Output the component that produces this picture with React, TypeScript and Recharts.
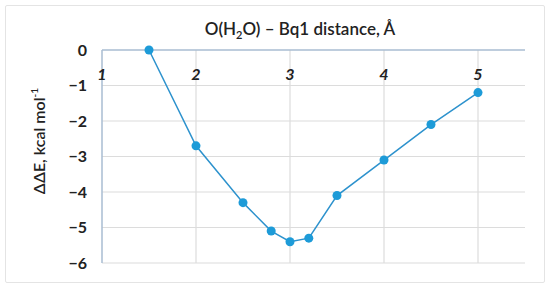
import React from 'react';
import { LineChart, Line, XAxis, YAxis, CartesianGrid } from 'recharts';

// O(H2O) - Bq1 distance (Å) vs ΔΔE (kcal/mol)
const distance = [1.5, 2, 2.5, 2.8, 3, 3.2, 3.5, 4, 4.5, 5];
const deltaE = [0, -2.7, -4.3, -5.1, -5.4, -5.3, -4.1, -3.1, -2.1, -1.2];
const xTicks = [1, 2, 3, 4, 5];
const yTicks = [0, -1, -2, -3, -4, -5, -6];

const data = distance.map((d, i) => ({ d, e: deltaE[i] }));

const FONT = 'Lato, "Open Sans", sans-serif';
const AXIS_COLOR = '#a9bdd2';
const PLOT_TOP = 50;

const XTick = ({ x, payload }: any) => (
  <text
    x={x}
    y={PLOT_TOP + 30}
    textAnchor="middle"
    fontFamily={FONT}
    fontSize={16}
    fontWeight={700}
    fontStyle="italic"
    fill="#222"
  >
    {payload.value}
  </text>
);

export default function App() {
  return (
    <div style={{ position: 'absolute', left: 0, top: 0, width: 550, height: 289, background: '#fff' }}>
      <div
        style={{
          position: 'absolute',
          left: 5,
          top: 5,
          width: 538,
          height: 276,
          border: '1.5px solid #e4e4e4',
          borderRadius: 2,
        }}
      />
      <div
        style={{
          position: 'absolute',
          left: 0,
          width: 600,
          top: 18,
          textAlign: 'center',
          fontFamily: FONT,
          fontSize: 17,
          fontWeight: 600,
          color: '#222',
        }}
      >
        O(H<sub style={{ fontSize: 11 }}>2</sub>O) – Bq1 distance, Å
      </div>
      <div
        style={{
          position: 'absolute',
          left: 38,
          top: 141,
          transform: 'translate(-50%, -50%) rotate(-90deg)',
          whiteSpace: 'nowrap',
          fontFamily: FONT,
          fontSize: 16,
          fontWeight: 600,
          color: '#222',
        }}
      >
        ΔΔE, kcal mol<sup style={{ fontSize: 10 }}>-1</sup>
      </div>
      <LineChart
        width={550}
        height={289}
        data={data}
        margin={{ top: 20, right: 25, bottom: 26, left: 0 }}
        style={{ position: 'absolute', left: 0, top: 0 }}
      >
        <CartesianGrid stroke="#dcdcdc" strokeWidth={1.2} horizontalValues={yTicks.slice(1)} verticalValues={xTicks.slice(1)} />
        <XAxis
          dataKey="d"
          type="number"
          orientation="top"
          height={30}
          domain={[1, 5.5]}
          ticks={xTicks}
          tickLine={false}
          axisLine={{ stroke: AXIS_COLOR, strokeWidth: 1.5 }}
          tick={<XTick />}
          allowDataOverflow
        />
        <YAxis
          type="number"
          domain={[-6, 0]}
          ticks={yTicks}
          width={102}
          tickLine={false}
          tickSize={0}
          tickMargin={15}
          axisLine={{ stroke: AXIS_COLOR, strokeWidth: 1.5 }}
          tickFormatter={(v: number) => String(v).replace('-', '−')}
          tick={{ fontFamily: FONT, fontSize: 16, fontWeight: 700, fill: '#222' }}
        />
        <Line
          dataKey="e"
          stroke="#2d92cd"
          strokeWidth={1.5}
          dot={{ r: 4.5, fill: '#1d9bd8', stroke: 'none' }}
          isAnimationActive={false}
        />
      </LineChart>
    </div>
  );
}
